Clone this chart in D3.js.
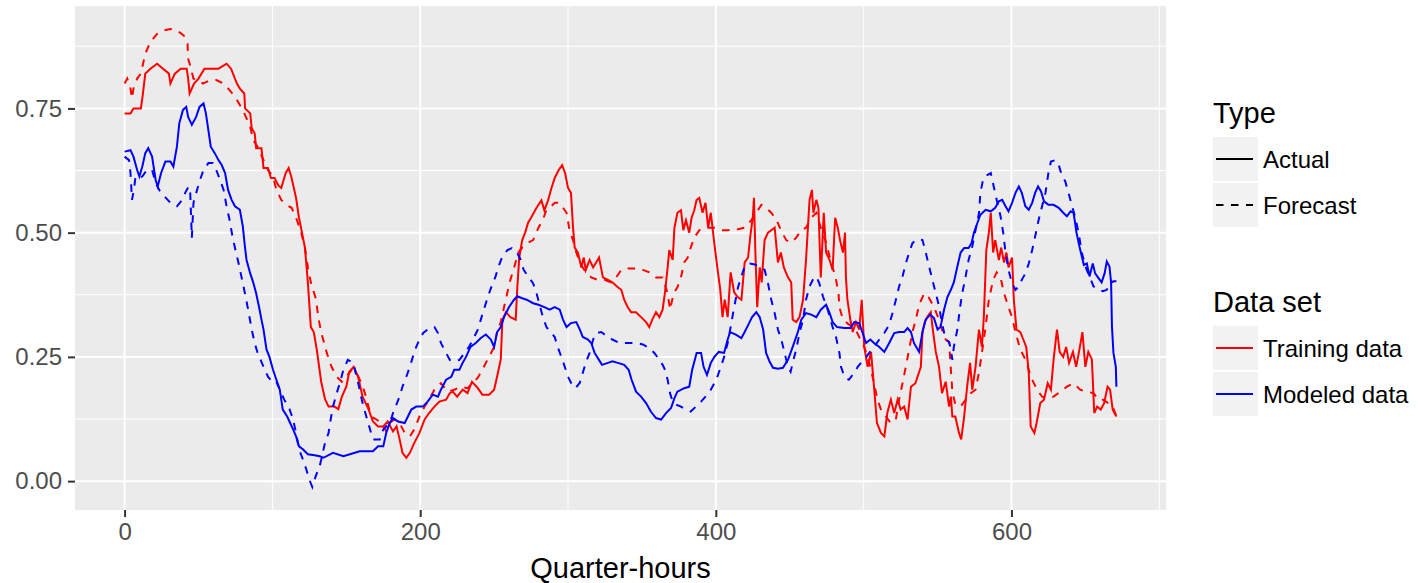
<!DOCTYPE html>
<html>
<head>
<meta charset="utf-8">
<script src="https://cdn.jsdelivr.net/npm/d3@7"></script>
<style>
  body { margin: 0; background: #fff; }
  svg text { font-family: "Liberation Sans", Arial, sans-serif; }
</style>
</head>
<body>
<svg id="chart" width="1418" height="583"></svg>
<script>
// values: [quarter-hour, value]
var trainingActual = [[0,0.74],[4,0.74],[6,0.75],[11,0.75],[12,0.77],[14,0.82],[17.5,0.83],[22,0.84],[26,0.83],[30,0.82],[31,0.80],[34,0.82],[38,0.83],[42,0.83],[43,0.81],[44,0.78],[47,0.80],[50,0.81],[54,0.83],[59,0.83],[63.5,0.83],[69,0.84],[72,0.83],[76,0.80],[78,0.79],[81,0.78],[81.5,0.75],[85,0.74],[86,0.71],[88,0.70],[89,0.67],[92.6,0.67],[94,0.63],[97,0.63],[99,0.61],[101.5,0.61],[104,0.595],[106,0.59],[107,0.60],[109,0.62],[111,0.63],[113,0.61],[116,0.57],[118,0.53],[120,0.50],[122,0.47],[124,0.40],[126,0.31],[128,0.30],[130,0.265],[133,0.20],[135.6,0.165],[138,0.15],[142,0.15],[144.6,0.145],[147,0.17],[150,0.19],[152,0.22],[155,0.23],[158,0.21],[161,0.17],[165,0.145],[168,0.12],[171.5,0.11],[175,0.11],[178,0.12],[181.6,0.10],[184,0.11],[186,0.085],[188,0.057],[190.6,0.047],[193,0.057],[196,0.077],[199.5,0.097],[203,0.124],[206,0.137],[209.6,0.15],[213,0.16],[217.5,0.164],[220,0.177],[222,0.18],[225,0.17],[228.7,0.184],[232,0.177],[235,0.20],[239,0.187],[242,0.174],[246.6,0.174],[250,0.184],[252,0.21],[254.5,0.245],[255.6,0.325],[258,0.34],[261,0.33],[264.6,0.325],[265.7,0.39],[267,0.45],[269,0.485],[271,0.50],[273,0.52],[275,0.53],[278.7,0.55],[282,0.565],[284,0.545],[286.5,0.565],[288.8,0.59],[291,0.61],[293.7,0.626],[296,0.636],[298,0.62],[300,0.59],[302,0.58],[303.4,0.51],[304.5,0.47],[306.7,0.46],[309,0.43],[310.6,0.45],[312,0.425],[314.6,0.445],[317,0.43],[319,0.44],[321,0.45],[323.6,0.41],[327,0.405],[330,0.40],[333.7,0.39],[336,0.385],[338,0.365],[340.4,0.35],[342.7,0.34],[346,0.34],[349.4,0.33],[352.8,0.32],[355,0.31],[357,0.325],[359.5,0.34],[361.8,0.33],[364,0.345],[365.6,0.38],[367.4,0.43],[368.5,0.465],[370.8,0.445],[372,0.51],[374,0.54],[376.4,0.545],[378,0.505],[379.8,0.525],[382,0.50],[383.6,0.53],[385.4,0.545],[387,0.566],[388.8,0.57],[391,0.54],[393,0.56],[394.8,0.51],[396.6,0.54],[398.9,0.48],[401,0.43],[403,0.385],[404.5,0.33],[406,0.365],[408,0.33],[410,0.42],[412.4,0.38],[415,0.37],[417.3,0.365],[419.5,0.44],[421.8,0.45],[423.6,0.50],[425,0.53],[425.8,0.57],[426.7,0.465],[428,0.35],[429.7,0.43],[431,0.40],[433,0.485],[435.3,0.50],[437.5,0.505],[439.8,0.51],[442,0.44],[444,0.46],[446,0.43],[448.8,0.41],[451,0.40],[452,0.325],[454.4,0.32],[456.6,0.33],[459,0.365],[461,0.445],[463.4,0.566],[465,0.586],[466,0.54],[468,0.566],[469.4,0.55],[471,0.41],[473,0.54],[474.6,0.46],[477,0.445],[479,0.425],[480.7,0.53],[482.5,0.51],[484,0.485],[486,0.46],[487.4,0.50],[488,0.41],[489,0.365],[491,0.325],[492.6,0.30],[494.8,0.32],[497,0.305],[498.7,0.365],[500.4,0.27],[502.7,0.23],[505,0.26],[507,0.19],[509,0.117],[511.7,0.097],[514,0.09],[516,0.137],[518.4,0.164],[520.7,0.137],[523,0.164],[525,0.144],[527.4,0.15],[529.7,0.124],[532,0.19],[535,0.197],[538.7,0.23],[539.8,0.30],[541.3,0.32],[543,0.33],[545.4,0.34],[547,0.30],[548.8,0.26],[551,0.23],[553,0.177],[555.5,0.20],[557.8,0.15],[559,0.17],[560,0.13],[562,0.13],[564.5,0.097],[566,0.084],[568,0.13],[570,0.19],[572,0.238],[573.5,0.184],[575.7,0.23],[578,0.305],[580,0.27],[581.3,0.33],[583,0.465],[584.7,0.50],[586,0.54],[587.6,0.46],[589,0.485],[591.5,0.445],[593,0.47],[595,0.44],[596.6,0.46],[598,0.43],[600.4,0.45],[601.6,0.365],[603.4,0.305],[606,0.30],[608,0.285],[610,0.27],[611.7,0.218],[613,0.11],[615.5,0.097],[617,0.117],[619.5,0.157],[622,0.164],[624.5,0.197],[626.7,0.184],[628.5,0.245],[630.8,0.305],[632.6,0.26],[635,0.25],[637,0.27],[639,0.238],[641.6,0.26],[643.8,0.23],[646,0.265],[648,0.30],[650,0.23],[652,0.26],[654.4,0.245],[656,0.137],[658,0.15],[660.4,0.144],[662.7,0.157],[665,0.19],[666.7,0.184],[668.5,0.144],[671,0.13]]

var trainingForecast = [[0,0.80],[1.8,0.81],[4,0.79],[5,0.77],[6,0.79],[8.5,0.81],[11,0.82],[14,0.86],[17.5,0.884],[22,0.90],[26.5,0.907],[31,0.91],[35.4,0.907],[40,0.897],[42.6,0.88],[43,0.85],[44,0.84],[46.6,0.81],[50,0.807],[53,0.80],[58,0.807],[62,0.807],[67,0.80],[71,0.787],[74.7,0.773],[78,0.757],[81,0.74],[85,0.713],[87,0.686],[90,0.673],[94,0.646],[97,0.626],[100.4,0.613],[102.7,0.586],[106,0.566],[109.4,0.556],[113,0.55],[116,0.53],[119.5,0.50],[122,0.47],[124,0.43],[126,0.40],[129.6,0.365],[131,0.33],[133,0.30],[136.8,0.258],[140,0.23],[143.5,0.21],[147,0.20],[150,0.21],[153.6,0.224],[157,0.218],[160,0.198],[162.6,0.177],[165,0.15],[167,0.13],[170.4,0.124],[173.8,0.117],[177,0.10],[179,0.117],[182.7,0.124],[186,0.117],[189.5,0.097],[193,0.09],[196,0.104],[199.5,0.13],[203,0.15],[206,0.164],[209.6,0.184],[214,0.197],[218.6,0.18],[223,0.184],[227.6,0.19],[232,0.187],[235.4,0.197],[239,0.208],[242,0.224],[244.4,0.238],[246.6,0.25],[250,0.27],[252,0.30],[254.5,0.32],[256.7,0.35],[259,0.38],[261,0.405],[263.5,0.43],[266.4,0.46],[269,0.47],[273,0.48],[276.4,0.485],[280,0.51],[283,0.526],[285.4,0.546],[287.6,0.55],[291,0.56],[294.4,0.56],[296.6,0.55],[299,0.54],[301,0.505],[303.4,0.485],[305.6,0.46],[308,0.44],[311,0.425],[315.7,0.41],[320,0.405],[324.7,0.405],[329,0.40],[332.6,0.41],[336,0.425],[340.4,0.428],[346,0.428],[350.6,0.425],[355,0.42],[359.5,0.41],[364,0.41],[367.4,0.378],[369,0.345],[371.5,0.378],[374,0.39],[376.4,0.41],[378.6,0.44],[381,0.45],[383,0.47],[385.4,0.49],[388.8,0.505],[392,0.51],[395.5,0.51],[399,0.51],[403.4,0.505],[408,0.505],[412.4,0.507],[415,0.507],[419.5,0.51],[424,0.525],[427.4,0.54],[430.8,0.556],[434,0.55],[437.5,0.54],[441,0.526],[444,0.505],[447.6,0.485],[451,0.48],[454.4,0.49],[457.8,0.505],[461,0.51],[464.5,0.53],[468,0.54],[471,0.51],[474.6,0.48],[478,0.44],[481,0.41],[483,0.378],[483.6,0.35],[486,0.325],[488,0.32],[490,0.315],[493.7,0.31],[497,0.29],[500.4,0.27],[502.7,0.25],[505,0.224],[507,0.197],[509.4,0.164],[511.7,0.144],[515,0.13],[518.4,0.117],[521.8,0.124],[524,0.164],[526.3,0.197],[528.5,0.23],[530.8,0.265],[533,0.30],[535.3,0.325],[537.5,0.355],[541,0.378],[544,0.37],[547.6,0.35],[551,0.325],[553,0.305],[555.5,0.285],[557.8,0.28],[560,0.18],[562,0.155],[565.6,0.15],[569,0.164],[572.4,0.177],[575.7,0.184],[578,0.218],[580,0.258],[582.5,0.31],[584.7,0.365],[587.6,0.405],[590,0.42],[592.6,0.41],[595,0.378],[598,0.35],[600.4,0.33],[602.7,0.30],[606,0.265],[609.4,0.245],[611.7,0.224],[614,0.204],[617.3,0.184],[620.7,0.17],[624,0.167],[628.5,0.17],[633,0.18],[637.5,0.19],[642,0.197],[646.5,0.184],[651,0.18],[655.5,0.177],[659,0.164],[662,0.164],[665.6,0.157],[668.5,0.15],[671,0.13]]

var modeledActual = [[0,0.663],[4,0.666],[6,0.653],[8.5,0.626],[10,0.613],[12,0.633],[14,0.66],[16,0.67],[18.6,0.653],[21,0.606],[22.4,0.593],[24.7,0.62],[27.6,0.643],[31,0.643],[33,0.633],[35.4,0.673],[37,0.72],[39.5,0.747],[41.7,0.753],[43,0.733],[45.5,0.717],[48.4,0.733],[50.7,0.753],[53.4,0.76],[55,0.74],[56.7,0.706],[58.3,0.673],[61,0.66],[63.5,0.646],[65.7,0.636],[68,0.62],[70,0.586],[72.4,0.566],[74.7,0.553],[78,0.546],[80,0.512],[81.4,0.472],[82.5,0.445],[85,0.418],[87,0.40],[89,0.378],[91,0.35],[92.6,0.325],[94,0.305],[96,0.265],[98,0.25],[100.4,0.224],[102.7,0.204],[105,0.184],[107,0.144],[110,0.13],[112,0.117],[114,0.104],[116,0.09],[118,0.07],[120.6,0.064],[124,0.054],[128.5,0.052],[132,0.05],[134.5,0.047],[141,0.057],[148,0.05],[154.7,0.056],[159,0.06],[168,0.06],[171.5,0.07],[175,0.07],[177,0.097],[179.4,0.117],[181.6,0.127],[185,0.12],[189.5,0.117],[194,0.144],[197.3,0.15],[201.8,0.15],[205,0.16],[208.5,0.174],[212,0.17],[214,0.184],[217.5,0.204],[221,0.21],[223,0.224],[226.5,0.224],[228.7,0.238],[231,0.25],[234,0.27],[237.6,0.278],[241,0.288],[244.4,0.295],[247.8,0.285],[250,0.27],[252,0.30],[254.5,0.31],[256.7,0.33],[260,0.35],[263.5,0.365],[265.7,0.372],[269,0.368],[272,0.365],[276.4,0.358],[280,0.355],[284,0.35],[287.6,0.345],[291,0.35],[294.4,0.345],[296.6,0.325],[299,0.31],[302,0.318],[305.6,0.32],[308,0.305],[310,0.29],[313.5,0.285],[315.7,0.278],[318,0.258],[320.7,0.245],[323,0.234],[327,0.238],[330,0.241],[333.7,0.238],[338,0.234],[341,0.224],[343,0.204],[346,0.18],[349.4,0.17],[352.8,0.157],[356,0.14],[359.5,0.127],[363,0.124],[366.3,0.137],[369.7,0.147],[372,0.167],[374,0.18],[378.6,0.187],[382,0.19],[384,0.224],[387,0.258],[390,0.258],[391.7,0.23],[394,0.214],[396.6,0.238],[399,0.25],[402,0.26],[405.6,0.258],[408,0.285],[409.7,0.30],[413.5,0.295],[417.3,0.288],[419.5,0.30],[422,0.315],[424.5,0.33],[427.4,0.34],[429.7,0.33],[432,0.305],[434,0.258],[436.4,0.24],[438.7,0.228],[442,0.226],[445.4,0.228],[448.8,0.244],[452,0.27],[455.5,0.30],[457.8,0.325],[461,0.338],[464.5,0.335],[468,0.33],[471,0.345],[474.6,0.355],[477,0.338],[479,0.32],[482,0.31],[487,0.308],[491,0.308],[493.7,0.32],[497,0.318],[499.3,0.298],[501.6,0.278],[504.5,0.285],[507,0.278],[510.6,0.27],[514,0.26],[517.3,0.278],[520.7,0.298],[524,0.30],[527.4,0.30],[529.7,0.308],[532,0.30],[534,0.278],[537.5,0.26],[539.8,0.30],[542,0.325],[545,0.335],[547.6,0.328],[550,0.305],[552,0.31],[554.4,0.345],[556.6,0.37],[559,0.385],[561,0.40],[563.4,0.432],[565.6,0.46],[568,0.469],[571,0.469],[573,0.479],[574.6,0.50],[577,0.52],[579,0.536],[582.5,0.546],[586,0.543],[589,0.55],[591.5,0.563],[593.7,0.566],[596,0.553],[598,0.543],[600.4,0.56],[602.7,0.58],[605,0.593],[607,0.58],[609.4,0.553],[611.7,0.546],[614,0.56],[616,0.58],[618,0.593],[620,0.583],[622,0.563],[625,0.556],[628.5,0.556],[632,0.55],[635,0.54],[637.5,0.533],[640,0.543],[642,0.54],[644,0.50],[646,0.472],[647.6,0.452],[649,0.435],[651,0.438],[652.8,0.412],[655,0.438],[656.6,0.418],[659,0.408],[661,0.40],[663,0.418],[664.5,0.442],[666.3,0.432],[667.4,0.40],[668,0.31],[669,0.258],[670.6,0.23],[671,0.19]]

var modeledForecast = [[0,0.653],[3,0.646],[4,0.62],[5,0.566],[6.3,0.586],[7.4,0.613],[9.6,0.61],[12,0.613],[15,0.626],[18.6,0.626],[21,0.60],[24,0.583],[27,0.573],[31,0.56],[35.4,0.553],[39,0.566],[41,0.58],[43.3,0.593],[44.4,0.58],[45.5,0.49],[46.6,0.56],[49,0.586],[51,0.606],[53.4,0.626],[56.7,0.64],[59.6,0.64],[62,0.626],[64.6,0.606],[67,0.586],[69,0.553],[71,0.526],[73,0.492],[75,0.465],[77,0.44],[79,0.412],[81.4,0.378],[83.6,0.345],[86,0.305],[88,0.278],[90,0.258],[94,0.23],[97,0.21],[100.4,0.198],[102.7,0.20],[105,0.184],[108,0.164],[111.7,0.144],[114,0.124],[116,0.097],[118,0.064],[120.6,0.044],[123,0.023],[125,0.003],[127,-0.012],[129.3,0.01],[132,0.03],[135.6,0.077],[138,0.097],[139,0.117],[141,0.15],[143.5,0.177],[145.7,0.198],[148,0.224],[151,0.244],[154.7,0.238],[158,0.198],[161,0.157],[164.8,0.117],[168,0.084],[172.6,0.084],[175,0.104],[177,0.11],[179.4,0.117],[181.6,0.137],[183.9,0.154],[186,0.17],[188,0.19],[190.6,0.21],[193,0.23],[195,0.25],[197.3,0.27],[199.5,0.285],[202,0.298],[205,0.305],[209.6,0.31],[212,0.298],[214,0.278],[217.5,0.258],[220,0.244],[223,0.241],[226.5,0.244],[230,0.258],[233,0.27],[236.5,0.29],[239,0.305],[241,0.325],[243,0.345],[246.6,0.378],[249,0.398],[251,0.412],[253,0.432],[255.6,0.452],[259,0.465],[262,0.469],[265.7,0.459],[268,0.445],[270,0.425],[273,0.412],[276.4,0.398],[278.7,0.378],[281,0.352],[283,0.33],[285.4,0.31],[288.8,0.298],[291,0.29],[293,0.27],[295.5,0.25],[297.8,0.23],[300,0.21],[302,0.198],[305,0.187],[308,0.198],[310,0.218],[312,0.238],[314.6,0.258],[317,0.285],[319,0.298],[322.5,0.30],[327,0.29],[330,0.285],[334.8,0.278],[340.4,0.278],[346,0.278],[350.6,0.275],[355,0.268],[358.4,0.258],[361.8,0.244],[364,0.234],[365.6,0.224],[367.4,0.204],[369,0.177],[370.8,0.16],[373,0.154],[376.4,0.15],[379.8,0.144],[383,0.14],[386.5,0.15],[390,0.16],[393,0.17],[396.6,0.184],[399,0.197],[401,0.21],[403.4,0.23],[405.6,0.25],[408,0.278],[410,0.31],[412.4,0.35],[415,0.39],[417.3,0.412],[419.5,0.432],[423,0.438],[426.3,0.436],[429.7,0.432],[433,0.425],[435.3,0.398],[437.5,0.365],[439.8,0.338],[442,0.305],[444.3,0.285],[446.5,0.258],[448.8,0.23],[450.6,0.22],[452,0.238],[454.4,0.265],[456.6,0.298],[459,0.325],[461,0.365],[463.4,0.392],[465.6,0.405],[468,0.412],[470,0.398],[472.4,0.372],[475.7,0.345],[479,0.31],[481.3,0.29],[483.6,0.258],[484.7,0.23],[487,0.21],[490,0.204],[493.7,0.218],[496,0.23],[498.2,0.238],[500.4,0.244],[503.8,0.258],[507,0.27],[510.6,0.285],[514,0.298],[517.3,0.315],[519.5,0.338],[521.8,0.365],[524,0.392],[526.3,0.412],[528.5,0.438],[530.8,0.46],[533,0.479],[536.4,0.487],[539.8,0.485],[542,0.46],[544.3,0.432],[546.5,0.405],[548.8,0.378],[551,0.352],[553,0.318],[555.5,0.285],[557.8,0.28],[559,0.265],[560,0.244],[561,0.27],[563.4,0.305],[565,0.345],[566.7,0.378],[569,0.412],[571,0.445],[573.5,0.472],[575.7,0.505],[578,0.539],[579,0.58],[581,0.61],[583.6,0.616],[586,0.62],[588,0.593],[590,0.566],[592.6,0.533],[594.4,0.50],[596,0.46],[598,0.425],[600.4,0.398],[602.7,0.385],[605,0.392],[607,0.405],[609.4,0.418],[611.7,0.438],[614,0.465],[616,0.492],[618.4,0.526],[620.7,0.553],[623,0.58],[625,0.62],[626.7,0.643],[629.7,0.646],[632,0.636],[634,0.616],[636.4,0.603],[638.6,0.58],[641,0.553],[643,0.533],[645.4,0.50],[647.6,0.46],[650,0.432],[652.8,0.412],[655.5,0.392],[659,0.385],[662,0.382],[664.5,0.385],[666.7,0.398],[669,0.402],[671,0.402]]

var xTicks = [0, 200, 400, 600]
var xMinor = [100, 300, 500, 700]
var yTicks = [0, 0.25, 0.5, 0.75]
var yMinor = [0.125, 0.375, 0.625, 0.875]
var typeNames = ["Actual", "Forecast"]
var setNames = ["Training data", "Modeled data"]
var setColors = ["#ff0000", "#0000ff"]

var series = [
  {values: trainingActual, set: 0, type: 0},
  {values: trainingForecast, set: 0, type: 1},
  {values: modeledActual, set: 1, type: 0},
  {values: modeledForecast, set: 1, type: 1}
]

var panel = {left: 75, right: 1166, top: 6, bottom: 510}
var dash = "7.5,7.5"
var svg = d3.select("#chart")

// ggplot style 5% expansion of the data range
function expand(ext) { var d = (ext[1] - ext[0]) * 0.05; return [ext[0] - d, ext[1] + d] }
var all = series.flatMap(s => s.values)
var x = d3.scaleLinear().domain(expand(d3.extent(all, d => d[0]))).range([panel.left, panel.right])
var y = d3.scaleLinear().domain(expand(d3.extent(all, d => d[1]))).range([panel.bottom, panel.top])

svg.append("rect").attr("x", panel.left).attr("y", panel.top)
  .attr("width", panel.right - panel.left).attr("height", panel.bottom - panel.top).attr("fill", "#ebebeb")

var grid = svg.append("g")
grid.selectAll(".vminor").data(xMinor).join("line").attr("class", "vminor")
  .attr("x1", d => x(d)).attr("x2", d => x(d)).attr("y1", panel.top).attr("y2", panel.bottom)
  .attr("stroke", "#fff").attr("stroke-width", 1)
grid.selectAll(".hminor").data(yMinor).join("line").attr("class", "hminor")
  .attr("y1", d => y(d)).attr("y2", d => y(d)).attr("x1", panel.left).attr("x2", panel.right)
  .attr("stroke", "#fff").attr("stroke-width", 1)
grid.selectAll(".vmajor").data(xTicks).join("line").attr("class", "vmajor")
  .attr("x1", d => x(d)).attr("x2", d => x(d)).attr("y1", panel.top).attr("y2", panel.bottom)
  .attr("stroke", "#fff").attr("stroke-width", 2)
grid.selectAll(".hmajor").data(yTicks).join("line").attr("class", "hmajor")
  .attr("y1", d => y(d)).attr("y2", d => y(d)).attr("x1", panel.left).attr("x2", panel.right)
  .attr("stroke", "#fff").attr("stroke-width", 2)

svg.append("clipPath").attr("id", "clip").append("rect")
  .attr("x", panel.left).attr("y", panel.top).attr("width", panel.right - panel.left).attr("height", panel.bottom - panel.top)

var line = d3.line().x(d => x(d[0])).y(d => y(d[1]))
svg.append("g").attr("clip-path", "url(#clip)").selectAll("path").data(series).join("path")
  .attr("d", d => line(d.values)).attr("fill", "none")
  .attr("stroke", d => setColors[d.set]).attr("stroke-width", 2)
  .attr("stroke-dasharray", d => d.type == 1 ? dash : null)

//-------------- axes
var xAxis = svg.append("g").attr("transform", "translate(0," + panel.bottom + ")")
  .call(d3.axisBottom(x).tickValues(xTicks).tickSize(7).tickPadding(6).tickFormat(d3.format("d")))
xAxis.select(".domain").remove()
xAxis.selectAll("line").attr("stroke", "#333").attr("stroke-width", 2)
xAxis.selectAll("text").attr("font-size", 24).attr("fill", "#4d4d4d")

var yAxis = svg.append("g").attr("transform", "translate(" + panel.left + ",0)")
  .call(d3.axisLeft(y).tickValues(yTicks).tickSize(7).tickPadding(6).tickFormat(d3.format(".2f")))
yAxis.select(".domain").remove()
yAxis.selectAll("line").attr("stroke", "#333").attr("stroke-width", 2)
yAxis.selectAll("text").attr("font-size", 24).attr("fill", "#4d4d4d")

svg.append("text").attr("x", (panel.left + panel.right) / 2).attr("y", 578)
  .attr("text-anchor", "middle").attr("font-size", 29).text("Quarter-hours")

//-------------- legends
function legend(top, title, names, styleFn) {
  var g = svg.append("g").attr("transform", "translate(1213," + top + ")")
  g.append("text").attr("x", 0).attr("y", 0).attr("font-size", 29).text(title)
  var item = g.selectAll(".key").data(names).join("g").attr("class", "key")
    .attr("transform", (d, i) => "translate(0," + (14 + i * 46) + ")")
  item.append("rect").attr("width", 45).attr("height", 44).attr("fill", "#f2f2f2")
  item.append("line").attr("x1", 3).attr("x2", 40).attr("y1", 22).attr("y2", 22)
    .attr("stroke-width", 2).each(function (d, i) { styleFn(d3.select(this), i) })
  item.append("text").attr("x", 50).attr("y", 30.5).attr("font-size", 24).text(d => d)
}
legend(123, "Type", typeNames, (sel, i) => sel.attr("stroke", "#000").attr("stroke-dasharray", i == 1 ? dash : null))
legend(312, "Data set", setNames, (sel, i) => sel.attr("stroke", setColors[i]))
</script>
</body>
</html>
